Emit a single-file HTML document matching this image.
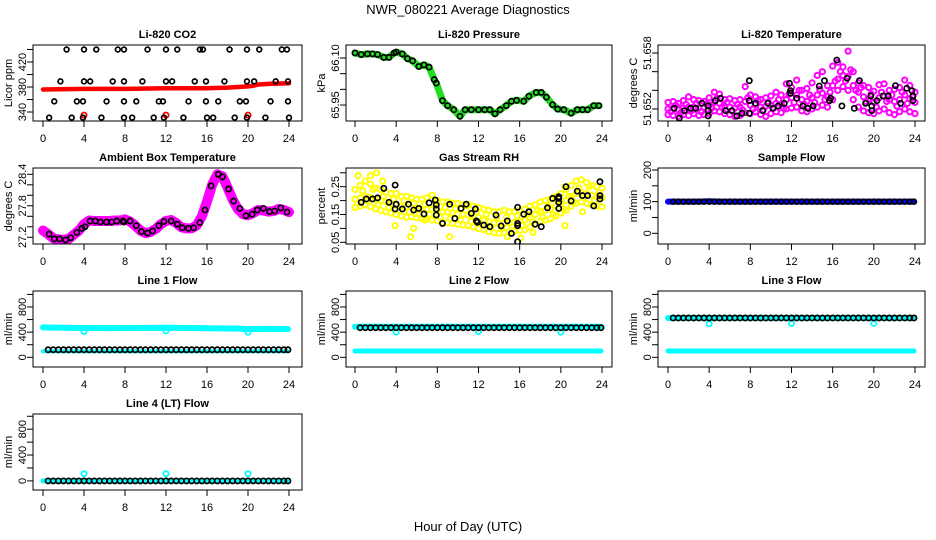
<!DOCTYPE html>
<html><head><meta charset="utf-8"><style>
html,body{margin:0;padding:0;background:#fff;}
svg{display:block;font-family:"Liberation Sans",Arial,sans-serif;}
</style></head><body>
<svg id="chart" width="936" height="540" viewBox="0 0 936 540">
<text x="468" y="14" text-anchor="middle" font-size="13">NWR_080221  Average Diagnostics</text>
<text x="468" y="531" text-anchor="middle" font-size="13">Hour of Day (UTC)</text>
</svg>
<script>
// ---------- data ----------
const hours = [0,4,8,12,16,20,24];
const halfT = [0,0.5,1,1.5,2,2.5,3,3.5,4,4.5,5,5.5,6,6.5,7,7.5,8,8.5,9,9.5,10,10.5,11,11.5,12,12.5,13,13.5,14,14.5,15,15.5,16,16.5,17,17.5,18,18.5,19,19.5,20,20.5,21,21.5,22,22.5,23,23.5,24];
const quarterT = [0.25,0.75,1.25,1.75,2.25,2.75,3.25,3.75,4.25,4.75,5.25,5.75,6.25,6.75,7.25,7.75,8.25,8.75,9.25,9.75,10.25,10.75,11.25,11.75,12.25,12.75,13.25,13.75,14.25,14.75,15.25,15.75,16.25,16.75,17.25,17.75,18.25,18.75,19.25,19.75,20.25,20.75,21.25,21.75,22.25,22.75,23.25,23.75];
const flowT = [0.5,1,1.5,2,2.5,3,3.5,4,4.5,5,5.5,6,6.5,7,7.5,8,8.5,9,9.5,10,10.5,11,11.5,12,12.5,13,13.5,14,14.5,15,15.5,16,16.5,17,17.5,18,18.5,19,19.5,20,20.5,21,21.5,22,22.5,23,23.5,23.9];
const hourT = [0,1,2,3,4,5,6,7,8,9,10,11,12,13,14,15,16,17,18,19,20,21,22,23,23.9];

// CO2
const co2BlackT = [2.3,4.0,5.2,7.3,7.9,10.2,12.0,13.1,15.3,15.6,18.2,19.9,21.1,23.3,23.8, 1.7,4.0,4.6,6.8,7.9,9.7,12.0,12.6,14.8,15.9,17.7,19.9,20.6,22.7,23.9, 1.1,3.3,3.9,6.2,7.9,9.1,11.3,11.7,14.2,15.9,17.1,19.2,19.8,22.2,23.9, 0.6,2.8,3.9,5.7,7.9,8.7,10.8,11.8,13.7,16.0,16.6,18.7,19.9,21.7,24.0];
const co2BlackV = [440,440,440,440,440,440,440,440,440,440,440,440,440,440,440, 389,389,389,389,389,389,389,389,389,389,389,389,389,389,389, 357,357,357,357,357,357,357,357,357,357,357,357,357,357,357, 331,331,331,331,331,331,331,331,331,331,331,331,331,331,331];
const co2RedT = [0,4,8,12,16,18,19,20,20.5,21,22,24];
const co2RedV = [376,377,377,378,378,379,380,381,382,384,385,386];
const co2RedDipT = [4,12,20];
const co2RedDipV = [335,335,335];

// Pressure
const presT = [0,0.6,1.2,1.7,2.2,2.8,3.3,3.8,4,4.6,5.1,5.6,6.2,6.7,7.2,7.7,7.9,8.5,9.0,9.6,10.2,10.7,11.3,12,12.6,13.1,13.6,14.1,14.7,15.2,15.7,16.4,16.9,17.6,18.1,18.6,19.2,19.7,20.3,21,21.6,22.1,22.6,23.2,23.7];
const presV = [66.116,66.111,66.113,66.113,66.111,66.102,66.102,66.116,66.119,66.113,66.098,66.091,66.073,66.078,66.071,66.031,66.020,65.964,65.948,65.935,65.914,65.935,65.935,65.935,65.935,65.935,65.922,65.935,65.948,65.962,65.965,65.962,65.978,65.990,65.990,65.975,65.951,65.937,65.935,65.924,65.935,65.935,65.935,65.948,65.948];

// Li-820 temperature
const tempBlackT = [0.6,1.1,1.6,2.2,2.7,3.3,3.9,3.9,3.9,4.6,5.1,5.6,6.2,6.7,7.2,7.9,7.9,7.9,8.5,9.2,9.7,10.2,10.7,11.3,11.8,11.9,11.9,12.5,13.1,13.6,14.1,14.7,15.2,15.7,15.8,16.4,16.9,17.4,18.1,18.6,19.2,19.7,19.8,19.8,20.3,20.9,21.4,22.1,22.6,23.2,23.7,23.8,23.8];
const tempBlackV = [51.65207,51.65100,51.65182,51.65207,51.65207,51.65261,51.65232,51.65182,51.65125,51.65289,51.65315,51.65182,51.65182,51.65125,51.65154,51.65503,51.65289,51.65154,51.65261,51.65182,51.65261,51.65207,51.65232,51.65261,51.65475,51.65396,51.65368,51.65315,51.65232,51.65207,51.65232,51.65446,51.65503,51.65289,51.65315,51.65725,51.65232,51.65529,51.65207,51.65503,51.65261,51.65339,51.65232,51.65182,51.65289,51.65339,51.65339,51.65450,51.65261,51.65422,51.65396,51.65339,51.65289];
const tempMid = [51.6520,51.6521,51.6519,51.6521,51.6522,51.6522,51.6521,51.6522,51.6524,51.6527,51.6526,51.6523,51.6522,51.6521,51.6522,51.6528,51.6524,51.6525,51.6522,51.6523,51.6524,51.6526,51.6525,51.6530,51.6532,51.6535,51.6530,51.6528,51.6532,51.6535,51.6537,51.6533,51.6545,51.6552,51.6556,51.6555,51.6545,51.6538,51.6533,51.6530,51.6527,51.6532,51.6534,51.6530,51.6528,51.6530,51.6535,51.6531,51.6527];
const tempLo = [51.6514,51.6513,51.6512,51.6514,51.6513,51.6515,51.6513,51.6514,51.6515,51.6518,51.6517,51.6515,51.6514,51.6512,51.6513,51.6516,51.6515,51.6517,51.6514,51.6512,51.6515,51.6517,51.6516,51.6520,51.6521,51.6522,51.6518,51.6517,51.6520,51.6522,51.6524,51.6522,51.6530,51.6540,51.6544,51.6540,51.6530,51.6522,51.6518,51.6516,51.6515,51.6518,51.6520,51.6516,51.6514,51.6517,51.6520,51.6517,51.6515];
const tempHi = [51.6527,51.6528,51.6526,51.6529,51.6533,51.6530,51.6529,51.6528,51.6532,51.6538,51.6536,51.6530,51.6531,51.6529,51.6530,51.6544,51.6535,51.6533,51.6530,51.6532,51.6534,51.6538,51.6535,51.6547,51.6543,51.6551,51.6540,51.6542,51.6548,51.6556,51.6560,51.6545,51.6566,51.6570,51.6565,51.6582,51.6560,51.6548,51.6545,51.6543,51.6539,51.6546,51.6547,51.6540,51.6541,51.6543,51.6551,51.6545,51.6538];
const tempQ = [51.6517,51.6524,51.6516,51.6525,51.6518,51.6526,51.6517,51.6525,51.6521,51.6531,51.6522,51.6527,51.6518,51.6525,51.6519,51.6532,51.6520,51.6529,51.6519,51.6527,51.6521,51.6530,51.6521,51.6536,51.6527,51.6540,51.6525,51.6535,51.6527,51.6541,51.6530,51.6538,51.6550,51.6560,51.6550,51.6562,51.6540,51.6543,51.6528,51.6536,51.6522,51.6538,51.6528,51.6535,51.6523,51.6538,51.6526,51.6533];

// Ambient box temperature
const ambBlackT = [0.6,1.1,1.6,2.2,2.7,3.3,3.8,4.1,4.6,5.1,5.6,6.2,6.7,7.2,7.8,7.9,8.5,9.1,9.6,10.2,10.7,11.3,11.8,12.5,13.1,13.6,14.2,14.7,15.3,15.8,16.4,17.1,17.5,18.1,18.6,19.2,19.8,20.4,20.9,21.5,22.1,22.6,23.2,23.8];
const ambBlackV = [27.26,27.17,27.17,27.15,27.19,27.29,27.37,27.40,27.51,27.51,27.49,27.49,27.49,27.51,27.51,27.49,27.51,27.42,27.31,27.28,27.32,27.42,27.50,27.51,27.45,27.38,27.37,27.38,27.48,27.72,28.18,28.40,28.35,28.12,27.89,27.75,27.61,27.64,27.72,27.75,27.69,27.70,27.76,27.68];
const ambBand = [27.33,27.26,27.18,27.16,27.15,27.17,27.25,27.33,27.45,27.52,27.51,27.51,27.51,27.51,27.52,27.52,27.54,27.50,27.42,27.33,27.28,27.30,27.36,27.45,27.51,27.53,27.47,27.39,27.37,27.37,27.43,27.60,27.88,28.20,28.40,28.36,28.15,27.92,27.74,27.64,27.62,27.66,27.72,27.71,27.69,27.70,27.74,27.72,27.68];

// Gas stream RH
const rhBlackT = [0.6,1.1,1.7,2.2,2.8,3.3,3.9,3.9,4,4.6,5.2,5.7,6.2,6.7,7.2,7.8,7.9,7.9,7.9,8.5,9.2,9.7,10.3,10.8,11.3,11.7,11.8,11.9,12.5,13.1,13.7,14.2,14.8,15.2,15.8,15.8,15.8,15.8,16.4,16.9,17.5,18.1,18.7,19.2,19.8,19.8,19.8,19.8,20.5,21.0,21.6,22.1,22.6,23.2,23.8,23.8,23.8];
const rhBlackV = [0.194,0.206,0.206,0.210,0.244,0.194,0.256,0.170,0.187,0.170,0.187,0.166,0.172,0.152,0.192,0.202,0.184,0.170,0.148,0.118,0.187,0.136,0.172,0.187,0.154,0.170,0.127,0.122,0.112,0.106,0.148,0.109,0.127,0.082,0.176,0.118,0.110,0.052,0.151,0.160,0.115,0.106,0.174,0.208,0.214,0.208,0.194,0.172,0.250,0.199,0.234,0.218,0.218,0.181,0.268,0.218,0.206];
const rhMid = [.205,.210,.215,.212,.205,.200,.195,.190,.185,.180,.178,.175,.172,.170,.170,.168,.165,.160,.158,.155,.152,.150,.148,.145,.140,.130,.125,.120,.118,.118,.120,.122,.125,.130,.140,.150,.160,.165,.170,.180,.190,.200,.215,.225,.230,.225,.220,.215,.210];
const rhLo = [.175,.180,.185,.178,.170,.165,.160,.155,.150,.145,.140,.142,.138,.135,.135,.130,.128,.122,.120,.118,.115,.112,.110,.105,.100,.095,.088,.085,.082,.085,.088,.090,.092,.095,.105,.115,.125,.130,.135,.145,.155,.165,.180,.190,.195,.190,.185,.180,.178];
const rhHi = [.240,.255,.270,.260,.245,.240,.230,.225,.225,.215,.215,.210,.205,.205,.210,.220,.200,.195,.195,.190,.190,.185,.185,.180,.175,.170,.165,.160,.160,.165,.160,.160,.165,.170,.180,.185,.195,.200,.205,.215,.225,.240,.255,.270,.275,.265,.255,.250,.245];
const rhQ = [.190,.235,.200,.240,.185,.215,.175,.205,.165,.200,.160,.190,.150,.185,.150,.190,.140,.175,.135,.170,.130,.165,.125,.160,.115,.150,.105,.140,.100,.140,.105,.145,.110,.150,.125,.165,.140,.180,.150,.195,.170,.215,.195,.245,.210,.250,.200,.230];
const rhOutT = [0.3,1.5,2.1,2.7,3.9,5.4,5.7,6.8,9.2,14.8,16.1,17.3,20.4,20.4,22.1];
const rhOutV = [.29,.29,.30,.27,.11,.07,.10,.13,.07,.07,.065,.085,.25,.11,.16];

// Flows
const sampleBand = [100,100,100,100,101,100,100,100,100,100,100,100,100,100,100,100,100,100,100,100,100,100,100,100,100];
const sampleBlack = [100,100,100,100,100,100,100,100,100,100,100,100,100,100,100,100,100,100,100,100,100,100,100,100,100,100,100,100,100,100,100,100,100,100,100,100,100,100,100,100,100,100,100,100,100,100,100,100];
const line1Upper = [475,472,470,468,466,466,465,465,466,466,468,468,470,468,466,465,462,460,458,456,448,450,452,450,448];
const line1Lower = [95,95,95,95,95,95,95,95,95,95,95,95,95,95,95,95,95,95,95,95,95,95,95,95,95];
const line1Black = [120,120,120,120,120,120,120,120,120,120,120,120,120,120,120,120,120,120,120,120,120,120,120,120,120,120,120,120,120,120,120,120,120,120,120,120,120,120,120,120,120,120,120,120,120,120,120,120];
const line2Upper = [485,485,485,485,485,485,485,485,485,485,485,485,485,485,485,485,485,485,485,485,485,485,485,485,485];
const line2Lower = [100,100,100,100,100,100,100,100,100,100,100,100,100,100,100,100,100,100,100,100,100,100,100,100,100];
const line2Black = [470,470,470,470,470,470,470,470,470,470,470,470,470,470,470,470,470,470,470,470,470,470,470,470,470,470,470,470,470,470,470,470,470,470,470,470,470,470,470,470,470,470,470,470,470,470,470,470];
const line3Upper = [625,625,625,625,625,625,625,625,625,625,625,625,625,625,625,625,625,625,625,625,625,625,625,625,625];
const line3Lower = [100,100,100,100,100,100,100,100,100,100,100,100,100,100,100,100,100,100,100,100,100,100,100,100,100];
const line3Black = [625,625,625,625,625,625,625,625,625,625,625,625,625,625,625,625,625,625,625,625,625,625,625,625,625,625,625,625,625,625,625,625,625,625,625,625,625,625,625,625,625,625,625,625,625,625,625,625];
const line4Lower = [0,0,0,0,0,0,0,0,0,0,0,0,0,0,0,0,0,0,0,0,0,0,0,0,0];
const line4Black = [0,0,0,0,0,0,0,0,0,0,0,0,0,0,0,0,0,0,0,0,0,0,0,0,0,0,0,0,0,0,0,0,0,0,0,0,0,0,0,0,0,0,0,0,0,0,0,0];
const dipT = [4,12,20];
const line1Dip = [410,420,400];
const line2Dip = [400,410,400];
const line3Dip = [535,540,540];
const line4Dip = [110,110,110];

// ---------- drawing ----------
const NS = 'http://www.w3.org/2000/svg';
const svg = document.getElementById('chart');
const cols = [{l:33,r:302,x0:43,x24:289},{l:346,r:612,x0:355,x24:602},{l:658,r:925,x0:668,x24:915}];
const rowTop = [45,168,291,414];
const H = 76;
function mk(tag, attrs, parent){
  const e = document.createElementNS(NS, tag);
  for (const k in attrs) e.setAttribute(k, attrs[k]);
  (parent||svg).appendChild(e);
  return e;
}
function panel(ci, ri, title, ylab, ymin, ymax, ticks, labels, name){
  const c = cols[ci], top = rowTop[ri], bot = top + H;
  const g = mk('g', {});
  
  
  const xs = t => c.x0 + (c.x24 - c.x0) * t / 24;
  const ys = v => bot - (v - ymin) / (ymax - ymin) * H;
  const t1 = mk('text', {x:(c.l+c.r)/2, y:top-7, 'text-anchor':'middle', 'font-size':11, 'font-weight':'bold'}, g);
  t1.textContent = title;
  
  
  const yl = mk('text', {x:c.l-21, y:(top+bot)/2, 'text-anchor':'middle', 'font-size':11, transform:`rotate(-90 ${c.l-21} ${(top+bot)/2})`}, g);
  yl.textContent = ylab;
  
  
  const xa = mk('g', {}, g);
  
  
  hours.forEach(h => {
    mk('line', {x1:xs(h), x2:xs(h), y1:bot, y2:bot+6, stroke:'#000'}, xa);
    const tx = mk('text', {x:xs(h), y:bot+21, 'text-anchor':'middle', 'font-size':11}, xa);
    tx.textContent = h;
  });
  const ya = mk('g', {}, g);
  
  
  ticks.forEach(v => {
    mk('line', {x1:c.l-6, x2:c.l, y1:ys(v), y2:ys(v), stroke:'#000'}, ya);
  });
  labels.forEach(lb => {
    const y = ys(lb.v);
    const tx = mk('text', {x:c.l-7, y:y, 'text-anchor':'middle', 'font-size':11, transform:`rotate(-90 ${c.l-7} ${y})`}, ya);
    tx.textContent = lb.s;
  });
  const plot = mk('g', {}, g);
  
  
  mk('rect', {x:c.l, y:top, width:c.r-c.l, height:H, fill:'none', stroke:'#000'}, g);
  const clip = 'clip' + ci + ri;
  const cp = mk('clipPath', {id:clip}, g);
  mk('rect', {x:c.l, y:top, width:c.r-c.l, height:H}, cp);
  plot.setAttribute('clip-path', `url(#${clip})`);
  return {plot, xs, ys};
}
function pts(P, T, V, color, sw, r, nm){
  const g = mk('g', {}, P.plot);
  
  
  for (let i = 0; i < V.length; i++) {
    mk('circle', {cx:P.xs(T[i]), cy:P.ys(V[i]), r:r||2.6, fill:'none', stroke:color, 'stroke-width':sw||1.6}, g);
  }
}
function band(P, T, V, color, w, nm){
  const d = V.map((v,i) => (i?'L':'M') + P.xs(T[i]).toFixed(1) + ' ' + P.ys(v).toFixed(1)).join(' ');
  const p = mk('path', {d, fill:'none', stroke:color, 'stroke-width':w, 'stroke-linejoin':'round', 'stroke-linecap':'round'}, P.plot);
  
  
}
const L = (v,s) => ({v, s: s===undefined ? String(v) : s});

// CO2
let P = panel(0,0,'Li-820 CO2','Licor ppm',325.6,447.2,[340,360,380,400,420,440],[L(340),L(380),L(420)],'co2');
band(P, co2RedT, co2RedV, '#ff0000', 4.5, 'co2-red-band');
pts(P, co2RedDipT, co2RedDipV, '#ff0000', 1.8, 2.6, 'co2-red-points');
pts(P, co2BlackT, co2BlackV, '#000', 1.7, 2.4, 'co2-black-points');

// Pressure
P = panel(1,0,'Li-820 Pressure','kPa',65.899,66.1415,[65.95,66.00,66.05,66.10],[L(65.95,'65.95'),L(66.10,'66.10')],'pressure');
band(P, presT, presV, '#22dd22', 7, 'pressure-green-band');
pts(P, presT, presV, '#000', 1.7, 2.6, 'pressure-black-points');

// Temperature
P = panel(2,0,'Li-820 Temperature','degrees C',51.65071,51.65886,[51.652,51.654,51.656,51.658],[L(51.652,'51.652'),L(51.658,'51.658')],'li820-temp');
pts(P, halfT, tempLo, '#ff00ff', 2, 2.6, 'temp-magenta-low');
pts(P, halfT, tempMid, '#ff00ff', 2, 2.6, 'temp-magenta-mid');
pts(P, halfT, tempHi, '#ff00ff', 2, 2.6, 'temp-magenta-high');
pts(P, quarterT, tempQ, '#ff00ff', 2, 2.6, 'temp-magenta-quarter');
pts(P, tempBlackT, tempBlackV, '#000', 1.7, 2.6, 'temp-black-points');

// Ambient
P = panel(0,1,'Ambient Box Temperature','degrees C',27.072,28.52,[27.2,27.4,27.6,27.8,28.0,28.2,28.4],[L(27.2),L(27.8),L(28.4)],'ambient');
band(P, halfT, ambBand, '#ff00ff', 10, 'ambient-magenta-band');
pts(P, ambBlackT, ambBlackV, '#000', 1.7, 2.6, 'ambient-black-points');

// RH
P = panel(1,1,'Gas Stream RH','percent',0.0439,0.3173,[0.05,0.10,0.15,0.20,0.25,0.30],[L(0.05,'0.05'),L(0.15,'0.15'),L(0.25,'0.25')],'rh');
pts(P, halfT, rhLo, '#ffff00', 2, 2.6, 'rh-yellow-low');
pts(P, halfT, rhMid, '#ffff00', 2, 2.6, 'rh-yellow-mid');
pts(P, halfT, rhHi, '#ffff00', 2, 2.6, 'rh-yellow-high');
pts(P, quarterT, rhQ, '#ffff00', 2, 2.6, 'rh-yellow-quarter');
pts(P, rhOutT, rhOutV, '#ffff00', 2, 2.6, 'rh-yellow-outliers');
pts(P, rhBlackT, rhBlackV, '#000', 1.7, 2.6, 'rh-black-points');

// Sample flow
P = panel(2,1,'Sample Flow','ml/min',-33.8,206.3,[0,50,100,150,200],[L(0),L(100),L(200)],'sample-flow');
band(P, hourT, sampleBand, '#0000ff', 6, 'sample-blue-band');
pts(P, flowT, sampleBlack, '#000', 1.7, 2.4, 'sample-black-points');

// Line 1
const fTicks = [0,200,400,600,800,1000], fLabels = [L(0),L(400),L(800)];
P = panel(0,2,'Line 1 Flow','ml/min',-154,1054,fTicks,fLabels,'line1-flow');
band(P, hourT, line1Upper, '#00ffff', 6, 'line1-cyan-upper');
band(P, hourT, line1Lower, '#00ffff', 4, 'line1-cyan-lower');
pts(P, dipT, line1Dip, '#00ffff', 1.8, 2.6, 'line1-cyan-dips');
pts(P, flowT, line1Black, '#000', 1.7, 2.6, 'line1-black-points');

// Line 2
P = panel(1,2,'Line 2 Flow','ml/min',-154,1054,fTicks,fLabels,'line2-flow');
band(P, hourT, line2Upper, '#00ffff', 6, 'line2-cyan-upper');
band(P, hourT, line2Lower, '#00ffff', 5, 'line2-cyan-lower');
pts(P, dipT, line2Dip, '#00ffff', 1.8, 2.6, 'line2-cyan-dips');
pts(P, flowT, line2Black, '#000', 1.7, 2.6, 'line2-black-points');

// Line 3
P = panel(2,2,'Line 3 Flow','ml/min',-154,1054,fTicks,fLabels,'line3-flow');
band(P, hourT, line3Upper, '#00ffff', 6, 'line3-cyan-upper');
band(P, hourT, line3Lower, '#00ffff', 5, 'line3-cyan-lower');
pts(P, dipT, line3Dip, '#00ffff', 1.8, 2.6, 'line3-cyan-dips');
pts(P, flowT, line3Black, '#000', 1.7, 2.6, 'line3-black-points');

// Line 4
P = panel(0,3,'Line 4 (LT) Flow','ml/min',-141,1035,fTicks,fLabels,'line4-flow');
band(P, hourT, line4Lower, '#00ffff', 5, 'line4-cyan-band');
pts(P, dipT, line4Dip, '#00ffff', 1.8, 2.6, 'line4-cyan-dips');
pts(P, flowT, line4Black, '#000', 1.7, 2.6, 'line4-black-points');
</script>
</body></html>
